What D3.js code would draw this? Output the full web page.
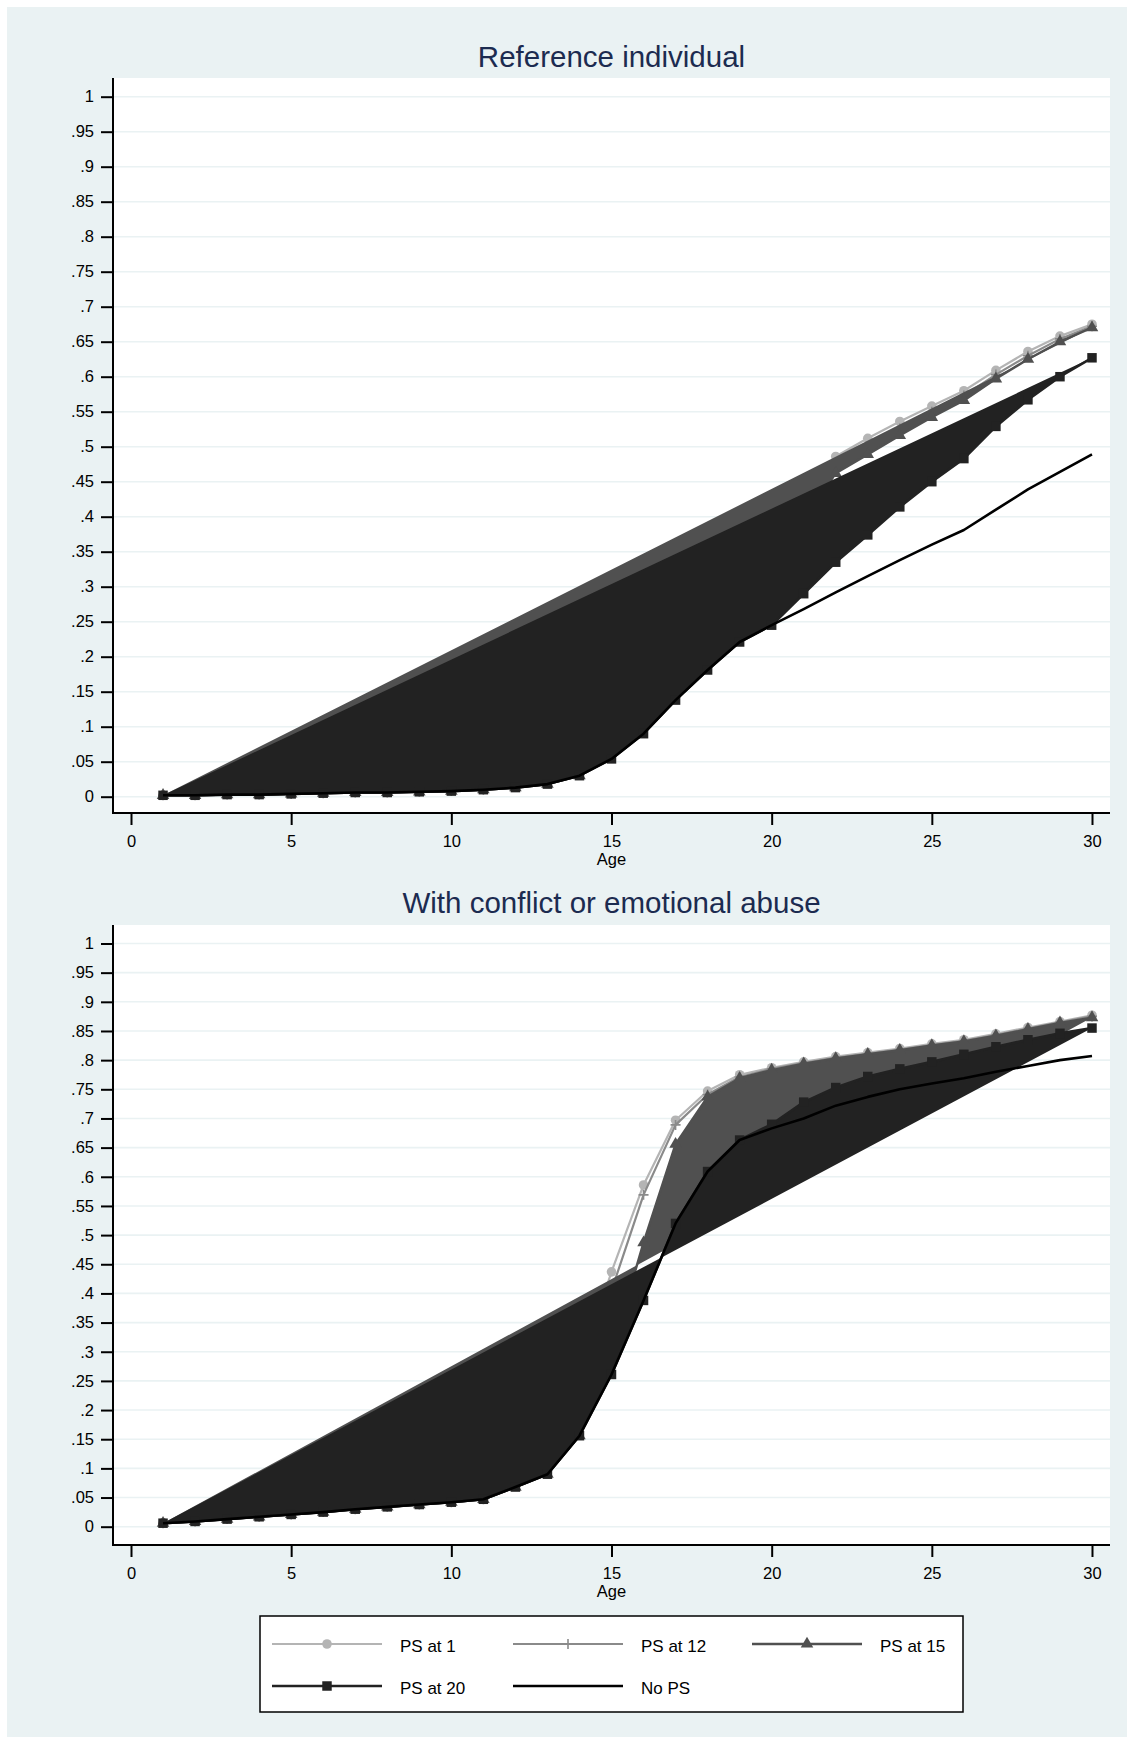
<!DOCTYPE html>
<html lang="en">
<head>
<meta charset="utf-8">
<title>Reference individual / With conflict or emotional abuse</title>
<script src="https://d3js.org/d3.v7.min.js"></script>
<style>
  body { margin: 0; background: #fff; }
  svg text { font-family: "Liberation Sans", Arial, sans-serif; }
</style>
</head>
<body>
<script>
"use strict"
// x axis: age, y axis: probability
var ages = [1, 2, 3, 4, 5, 6, 7, 8, 9, 10, 11, 12, 13, 14, 15,
            16, 17, 18, 19, 20, 21, 22, 23, 24, 25, 26, 27, 28, 29, 30];
var xTicks = [0, 5, 10, 15, 20, 25, 30];
var yTicks = [0, .05, .1, .15, .2, .25, .3, .35, .4, .45, .5,
              .55, .6, .65, .7, .75, .8, .85, .9, .95, 1];
var yTickLabels = ["0", ".05", ".1", ".15", ".2", ".25", ".3", ".35", ".4", ".45", ".5",
                   ".55", ".6", ".65", ".7", ".75", ".8", ".85", ".9", ".95", "1"];

// top panel: reference individual
var ref_ps1  = [0.002, 0.004, 0.007, 0.011, 0.016, 0.022, 0.029, 0.038, 0.049, 0.062,
                0.078, 0.097, 0.119, 0.146, 0.178, 0.216, 0.258, 0.300, 0.342, 0.385,
                0.440, 0.486, 0.512, 0.536, 0.558, 0.580, 0.609, 0.636, 0.658, 0.675];
var ref_ps12 = [0.002, 0.002, 0.003, 0.003, 0.004, 0.005, 0.006, 0.006, 0.007, 0.008,
                0.010, 0.022, 0.042, 0.070, 0.105, 0.145, 0.190, 0.240, 0.290, 0.340,
                0.410, 0.470, 0.500, 0.526, 0.550, 0.573, 0.603, 0.630, 0.654, 0.672];
var ref_ps15 = [0.002, 0.002, 0.003, 0.003, 0.004, 0.005, 0.006, 0.006, 0.007, 0.008,
                0.010, 0.013, 0.018, 0.030, 0.075, 0.130, 0.190, 0.250, 0.300, 0.345,
                0.395, 0.462, 0.489, 0.516, 0.542, 0.566, 0.597, 0.625, 0.650, 0.670];
var ref_ps20 = [0.002, 0.002, 0.003, 0.003, 0.004, 0.005, 0.006, 0.006, 0.007, 0.008,
                0.010, 0.013, 0.018, 0.030, 0.054, 0.090, 0.138, 0.181, 0.221, 0.245,
                0.290, 0.335, 0.374, 0.414, 0.450, 0.483, 0.529, 0.567, 0.600, 0.627];
var ref_nops = [0.002, 0.002, 0.003, 0.003, 0.004, 0.005, 0.006, 0.006, 0.007, 0.008,
                0.010, 0.013, 0.018, 0.030, 0.054, 0.090, 0.138, 0.181, 0.221, 0.245,
                0.268, 0.292, 0.315, 0.338, 0.360, 0.381, 0.410, 0.439, 0.464, 0.489];

// bottom panel: with conflict or emotional abuse
var abuse_ps1  = [0.007, 0.012, 0.018, 0.025, 0.033, 0.042, 0.052, 0.064, 0.078, 0.095,
                  0.115, 0.145, 0.190, 0.270, 0.437, 0.586, 0.697, 0.747, 0.775, 0.787,
                  0.797, 0.806, 0.813, 0.820, 0.828, 0.835, 0.845, 0.856, 0.866, 0.877];
var abuse_ps12 = [0.006, 0.009, 0.013, 0.017, 0.021, 0.025, 0.030, 0.034, 0.038, 0.042,
                  0.047, 0.090, 0.150, 0.250, 0.405, 0.569, 0.689, 0.741, 0.771, 0.785,
                  0.795, 0.804, 0.811, 0.818, 0.826, 0.833, 0.843, 0.854, 0.865, 0.875];
var abuse_ps15 = [0.006, 0.009, 0.013, 0.017, 0.021, 0.025, 0.030, 0.034, 0.038, 0.042,
                  0.047, 0.068, 0.090, 0.156, 0.300, 0.487, 0.656, 0.737, 0.769, 0.783,
                  0.794, 0.803, 0.810, 0.817, 0.825, 0.832, 0.842, 0.853, 0.864, 0.873];
var abuse_ps20 = [0.006, 0.009, 0.013, 0.017, 0.021, 0.025, 0.030, 0.034, 0.038, 0.042,
                  0.047, 0.068, 0.090, 0.156, 0.261, 0.388, 0.520, 0.609, 0.663, 0.690,
                  0.728, 0.753, 0.772, 0.785, 0.797, 0.810, 0.823, 0.835, 0.846, 0.855];
var abuse_nops = [0.006, 0.009, 0.013, 0.017, 0.021, 0.025, 0.030, 0.034, 0.038, 0.042,
                  0.047, 0.068, 0.090, 0.156, 0.261, 0.388, 0.520, 0.609, 0.663, 0.683,
                  0.700, 0.722, 0.737, 0.750, 0.760, 0.769, 0.780, 0.790, 0.800, 0.807];

var seriesNames   = ["PS at 1", "PS at 12", "PS at 15", "PS at 20", "No PS"];
var seriesColors  = ["#b4b4b4", "#8a8a8a", "#505050", "#222222", "#000000"];
var seriesSymbols = ["circle", "plus", "triangle", "square", "none"];
var seriesFilled  = [false, false, true, true, false];
var seriesWidths  = [2.2, 2.2, 2.4, 2.6, 2.6];

var width = 1134;
var height = 1744;
var plotLeft = 113, plotRight = 1110;

var panels = [
  {title: "Reference individual", titleY: 67, top: 78, axisY: 813, yTop: 96.7, yZero: 796.7,
   data: [ref_ps1, ref_ps12, ref_ps15, ref_ps20, ref_nops]},
  {title: "With conflict or emotional abuse", titleY: 913, top: 925, axisY: 1545, yTop: 943.5, yZero: 1526.7,
   data: [abuse_ps1, abuse_ps12, abuse_ps15, abuse_ps20, abuse_nops]}
];

var svg = d3.select("body").append("svg")
            .attr("width", width)
            .attr("height", height);

// graph region
svg.append("rect")
   .attr("x", 7).attr("y", 7)
   .attr("width", 1120).attr("height", 1730)
   .attr("fill", "#eaf2f3");

var x = d3.scaleLinear().domain([0, 30]).range([131, 1092]);

function symbolPath(kind) {
  if (kind === "circle") return d3.symbol().type(d3.symbolCircle).size(72)();
  if (kind === "triangle") return d3.symbol().type(d3.symbolTriangle).size(68)();
  if (kind === "square") return d3.symbol().type(d3.symbolSquare).size(90)();
  if (kind === "plus") return "M-5,0H5M0,-5V5";
  return null;
}

function addMarkers(g, pts, s) {
  var kind = seriesSymbols[s];
  if (kind === "none") return;
  g.selectAll(null)
    .data(pts)
    .enter()
      .append("path")
      .attr("d", symbolPath(kind))
      .attr("transform", function(d){ return "translate(" + d[0] + "," + d[1] + ")"; })
      .attr("fill", kind === "plus" ? "none" : seriesColors[s])
      .attr("stroke", kind === "plus" ? seriesColors[s] : "none")
      .attr("stroke-width", 1.6);
}

panels.forEach(function(p) {
  var y = d3.scaleLinear().domain([0, 1]).range([p.yZero, p.yTop]);
  var g = svg.append("g");

  g.append("rect")
   .attr("x", plotLeft).attr("y", p.top)
   .attr("width", plotRight - plotLeft).attr("height", p.axisY - p.top)
   .attr("fill", "white");

  g.selectAll(".grid")
    .data(yTicks)
    .enter()
      .append("line")
      .attr("x1", plotLeft).attr("x2", plotRight)
      .attr("y1", function(d){ return y(d); })
      .attr("y2", function(d){ return y(d); })
      .attr("stroke", "#eaf2f3")
      .attr("stroke-width", 1.6);

  // series in drawing order, each one fill, line, markers
  p.data.forEach(function(values, s) {
    var pts = ages.map(function(a, i){ return [x(a), y(values[i])]; });
    if (seriesFilled[s]) {
      g.append("path")
       .attr("d", d3.line().curve(d3.curveLinearClosed)(pts))
       .attr("fill", seriesColors[s]);
    }
    g.append("path")
     .attr("d", d3.line()(pts))
     .attr("fill", "none")
     .attr("stroke", seriesColors[s])
     .attr("stroke-width", seriesWidths[s])
     .attr("stroke-linejoin", "round");
    addMarkers(g, pts, s);
  });

  // axes
  var yAxis = g.append("g")
    .attr("transform", "translate(" + plotLeft + ",0)")
    .call(d3.axisLeft(y).tickValues(yTicks)
            .tickFormat(function(d, i){ return yTickLabels[i]; })
            .tickSize(12).tickPadding(7));
  var xAxis = g.append("g")
    .attr("transform", "translate(0," + p.axisY + ")")
    .call(d3.axisBottom(x).tickValues(xTicks).tickSize(12).tickPadding(10));
  [yAxis, xAxis].forEach(function(a) {
    a.select(".domain").remove();
    a.selectAll(".tick line").attr("stroke", "black").attr("stroke-width", 2);
    a.selectAll(".tick text").attr("fill", "black").attr("font-size", "16.5px")
     .attr("font-family", "Liberation Sans, Arial, sans-serif");
  });
  g.append("line")
   .attr("x1", plotLeft).attr("x2", plotLeft)
   .attr("y1", p.top).attr("y2", p.axisY + 1)
   .attr("stroke", "black").attr("stroke-width", 2);
  g.append("line")
   .attr("x1", plotLeft - 1).attr("x2", plotRight)
   .attr("y1", p.axisY).attr("y2", p.axisY)
   .attr("stroke", "black").attr("stroke-width", 2);

  g.append("text")
   .attr("x", (plotLeft + plotRight) / 2)
   .attr("y", p.axisY + 52)
   .attr("text-anchor", "middle")
   .attr("font-size", "16.5px")
   .attr("fill", "black")
   .text("Age");

  g.append("text")
   .attr("x", (plotLeft + plotRight) / 2)
   .attr("y", p.titleY)
   .attr("text-anchor", "middle")
   .attr("font-size", "29.5px")
   .attr("fill", "#1c2b50")
   .text(p.title);
});

// legend
var legend = svg.append("g");
legend.append("rect")
  .attr("x", 260).attr("y", 1616)
  .attr("width", 703).attr("height", 96)
  .attr("fill", "white")
  .attr("stroke", "black")
  .attr("stroke-width", 1.5);

var legendCols = [272, 513, 752];
var legendRows = [1644, 1686];

seriesNames.forEach(function(name, s) {
  var lx = legendCols[s % 3];
  var ly = legendRows[Math.floor(s / 3)];
  legend.append("line")
    .attr("x1", lx).attr("x2", lx + 110)
    .attr("y1", ly).attr("y2", ly)
    .attr("stroke", seriesColors[s])
    .attr("stroke-width", seriesWidths[s]);
  addMarkers(legend, [[lx + 55, ly]], s);
  legend.append("text")
    .attr("x", lx + 128)
    .attr("y", ly + 8)
    .attr("font-size", "17px")
    .attr("fill", "black")
    .text(name);
});
</script>
</body>
</html>
